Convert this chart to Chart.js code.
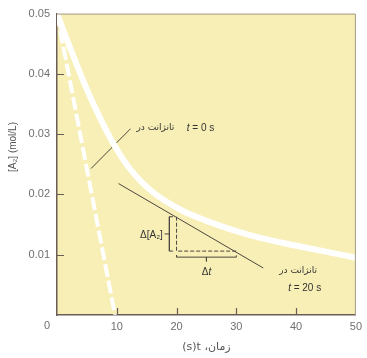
<!DOCTYPE html>
<html>
<head>
<meta charset="utf-8">
<script src="https://cdn.jsdelivr.net/npm/chart.js@4.4.0/dist/chart.umd.min.js"></script>
<style>
html, body { margin: 0; padding: 0; background: #fff; }
</style>
</head>
<body>
<canvas id="myChart" width="367" height="358"></canvas>
<script>
'use strict';

// [A2] curve
let times = [0, 2, 4, 6, 8, 10, 12, 14, 16, 18, 21, 24, 27, 30, 34, 38, 43, 47, 50];
let conc = [0.0500, 0.0448, 0.0398, 0.0352, 0.0311, 0.0275, 0.0245, 0.0222, 0.0204, 0.0190,
            0.0173, 0.0160, 0.0149, 0.0139, 0.0128, 0.0119, 0.0109, 0.0101, 0.0095];

// tangent at t = 0 (white dashed)
let tan0T = [0, 9.7];
let tan0A = [0.050, 0.0];

// tangent at t = 20
let tan20T = [10.3, 34.5];
let tan20A = [0.0218, 0.0078];

// leader for the t = 0 label
let leadT = [5.7, 12.3];
let leadA = [0.0243, 0.0309];

// slope triangle
let triT = [20, 20, 30];
let triA = [0.0163, 0.0106, 0.0106];

// brackets
let brA_T = [19.4, 18.8, 18.8, 19.4];
let brA_A = [0.0163, 0.0163, 0.0106, 0.0106];
let brA_tickT = [18.8, 18.0];
let brA_tickA = [0.01345, 0.01345];
let brT_T = [20, 20, 30, 30];
let brT_A = [0.0099, 0.0096, 0.0096, 0.0099];
let brT_tickT = [25, 25];
let brT_tickA = [0.0096, 0.0089];

let xTicks = [0, 10, 20, 30, 40, 50];
let yTicks = [0.01, 0.02, 0.03, 0.04, 0.05];

function pts(xs, ys) {
  return xs.map((x, i) => ({ x: x, y: ys[i] }));
}

function lineSet(xs, ys, color, width, dash) {
  return {
    data: pts(xs, ys),
    showLine: true,
    borderColor: color,
    borderWidth: width,
    borderDash: dash || [],
    pointRadius: 0,
    fill: false
  };
}

const ink = '#4d4640';
const sans = '"Liberation Sans", "DejaVu Sans", sans-serif';
const fa = '"DejaVu Sans", sans-serif';

function drawParts(c, parts, x, y, align) {
  let w = 0;
  parts.forEach(p => { c.font = p[1]; w += c.measureText(p[0]).width; });
  let cx = align === 'right' ? x - w : (align === 'center' ? x - w / 2 : x);
  c.textAlign = 'left';
  parts.forEach(p => {
    c.font = p[1];
    c.fillText(p[0], cx, y);
    cx += c.measureText(p[0]).width;
  });
}

let paper = {
  id: 'paper',
  beforeDraw(chart) {
    let a = chart.chartArea;
    let c = chart.ctx;
    c.save();
    c.fillStyle = '#f7efb6';
    c.fillRect(a.left, a.top, a.right - a.left, a.bottom - a.top);
    c.restore();
  },
  afterDraw(chart) {
    let a = chart.chartArea;
    let c = chart.ctx;
    let sx = chart.scales.x;
    let sy = chart.scales.y;
    c.save();

    // top and right frame
    c.strokeStyle = '#a39a8c';
    c.lineWidth = 1;
    c.beginPath();
    c.moveTo(a.left, a.top + 0.5);
    c.lineTo(a.right - 0.5, a.top + 0.5);
    c.lineTo(a.right - 0.5, a.bottom);
    c.stroke();

    // inward tick marks
    c.strokeStyle = '#6a5d55';
    c.lineWidth = 1.2;
    c.beginPath();
    xTicks.slice(1, -1).forEach(v => {
      let px = Math.round(sx.getPixelForValue(v)) + 0.5;
      c.moveTo(px, a.bottom);
      c.lineTo(px, a.bottom - 7);
    });
    yTicks.slice(0, -1).forEach(v => {
      let py = Math.round(sy.getPixelForValue(v)) + 0.5;
      c.moveTo(a.left, py);
      c.lineTo(a.left + 7, py);
    });
    c.stroke();

    // corner "0"
    c.fillStyle = '#707070';
    c.font = '11px ' + sans;
    c.textAlign = 'center';
    c.textBaseline = 'middle';
    c.fillText('0', sx.getPixelForValue(0) - 10, a.bottom + 11);

    // axis titles
    c.fillStyle = '#555';
    c.save();
    c.translate(13, 147);
    c.rotate(-Math.PI / 2);
    c.font = '10px ' + sans;
    c.textAlign = 'center';
    c.fillText('[A\u2082] (mol/L)', 0, 0);
    c.restore();

    c.direction = 'ltr';
    c.font = '11px ' + fa;
    c.textAlign = 'center';
    c.fillText('(s)t \u060C\u0632\u0645\u0627\u0646', (a.left + a.right) / 2, 347);

    // annotations
    c.fillStyle = '#333';
    c.textBaseline = 'middle';
    let p = (t, A) => [sx.getPixelForValue(t), sy.getPixelForValue(A)];

    let q = p(13.3, 0.031);
    drawParts(c, [['تانژانت در', '9px ' + fa]], q[0], q[1], 'left');
    q = p(21.7, 0.031);
    drawParts(c, [['t', 'italic 10px ' + sans], [' = 0 s', '10px ' + sans]], q[0], q[1], 'left');

    q = p(17.7, 0.0132);
    drawParts(c, [['\u0394[A\u2082]', '10px ' + sans]], q[0], q[1], 'right');

    q = p(25, 0.0071);
    drawParts(c, [['\u0394', '10px ' + sans], ['t', 'italic 10px ' + sans]], q[0], q[1], 'center');

    q = p(43.5, 0.0073);
    drawParts(c, [['تانژانت در', '9px ' + fa]], q[0], q[1], 'right');
    q = p(44.2, 0.0045);
    drawParts(c, [['t', 'italic 10px ' + sans], [' = 20 s', '10px ' + sans]], q[0], q[1], 'right');

    c.restore();
  }
};

let ctx = document.getElementById('myChart').getContext('2d');

let curve = lineSet(times, conc, '#ffffff', 6);
curve.cubicInterpolationMode = 'monotone';
curve.borderCapStyle = 'round';

let myChart = new Chart(ctx, {
  type: 'scatter',
  data: {
    datasets: [
      curve,
      lineSet(tan0T, tan0A, '#ffffff', 4, [13, 4]),
      lineSet(tan20T, tan20A, ink, 1),
      lineSet(leadT, leadA, ink, 1),
      lineSet(triT, triA, ink, 1, [4, 2]),
      lineSet(brA_T, brA_A, ink, 1),
      lineSet(brA_tickT, brA_tickA, ink, 1),
      lineSet(brT_T, brT_A, ink, 1),
      lineSet(brT_tickT, brT_tickA, ink, 1)
    ]
  },
  options: {
    responsive: false,
    animation: false,
    layout: { padding: { left: 0, right: 10, top: 13, bottom: 0 } },
    plugins: { legend: { display: false }, tooltip: { enabled: false } },
    scales: {
      x: {
        type: 'linear',
        min: 0,
        max: 50,
        afterFit(s) { s.height = 43; },
        afterBuildTicks(s) { s.ticks = xTicks.map(v => ({ value: v })); },
        grid: { display: false, drawTicks: false },
        border: { display: true, color: '#6a5d55', width: 1.5 },
        ticks: {
          padding: 5,
          color: '#707070',
          font: { family: sans, size: 11 },
          callback: v => v === 0 ? '' : String(v)
        }
      },
      y: {
        type: 'linear',
        min: 0,
        max: 0.05,
        afterFit(s) { s.width = 57; },
        afterBuildTicks(s) { s.ticks = yTicks.map(v => ({ value: v })); },
        grid: { display: false, drawTicks: false },
        border: { display: true, color: '#6a5d55', width: 1.5 },
        ticks: {
          padding: 7,
          color: '#707070',
          font: { family: sans, size: 11 },
          callback: v => v.toFixed(2)
        }
      }
    }
  },
  plugins: [paper]
});
</script>
</body>
</html>
